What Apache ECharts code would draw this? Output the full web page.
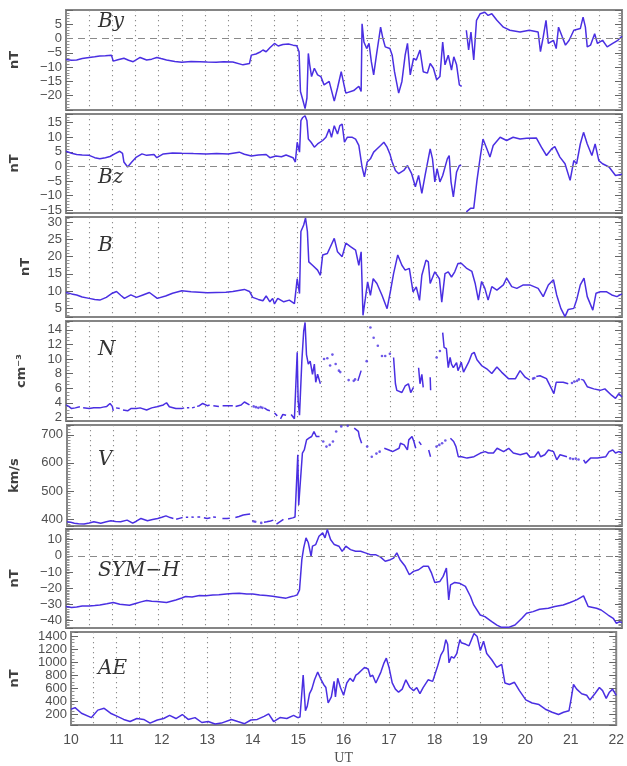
<!DOCTYPE html>
<html>
<head>
<meta charset="utf-8">
<script src="https://cdn.jsdelivr.net/npm/echarts@6/dist/echarts.min.js"></script>
<style>
html,body{margin:0;padding:0;background:#fff}
#chart{width:627px;height:766px}
</style>
</head>
<body>
<div id="chart"></div>
<script>
// Solar wind / geomagnetic overview, 10-22 UT. Each record is [UT hour, value].
const hourTicks = [10, 11, 12, 13, 14, 15, 16, 17, 18, 19, 20, 21, 22];

const byData = [
  [10.0,-7.3],[10.12,-7.6],[10.23,-7.5],[10.35,-7.0],[10.5,-6.6],[10.62,-6.4],[10.73,-6.1],[10.85,-6.0],[10.98,-5.8],[11.02,-7.9],
  [11.12,-7.4],[11.25,-6.9],[11.35,-7.6],[11.45,-8.1],[11.6,-6.6],[11.74,-7.5],[11.85,-7.2],[11.96,-6.6],[12.05,-7.0],[12.17,-7.5],
  [12.35,-8.0],[12.5,-8.3],[12.7,-8.0],[12.88,-8.1],[13.05,-8.2],[13.24,-8.3],[13.4,-8.1],[13.6,-8.2],[13.82,-9.2],[13.96,-8.7],
  [14.0,-5.8],[14.1,-5.4],[14.18,-4.8],[14.25,-4.0],[14.32,-4.6],[14.4,-3.2],[14.5,-1.7],[14.58,-2.6],[14.68,-2.1],[14.8,-1.9],
  [14.9,-2.3],[14.98,-2.5],[15.03,-4.6],[15.06,-18.5],[15.11,-21.4],[15.16,-24.5],[15.2,-20.8],[15.23,-5.2],[15.26,-9.2],[15.3,-13.3],
  [15.36,-10.4],[15.43,-12.7],[15.5,-13.3],[15.57,-16.2],[15.68,-15.0],[15.79,-21.9],[15.86,-17.3],[15.94,-11.6],[16.0,-16.2],[16.04,-19.1],
  [16.21,-18.2],[16.32,-16.7],[16.37,-18.5],[16.39,5.2],[16.43,-1.2],[16.49,-3.5],[16.54,-1.7],[16.59,-8.1],[16.64,-12.7],[16.7,-5.8],
  [16.79,4.0],[16.84,0],[16.89,-2.9],[16.99,-3.5],[17.04,-5.8],[17.09,-11.6],[17.18,-19.1],[17.25,-15.0],[17.32,-5.8],[17.37,-1.7],
  [17.43,-12.7],[17.5,-6.9],[17.56,-7.5],[17.64,-4.0],[17.71,-11.6],[17.8,-12.1],[17.86,-8.7],[17.93,-10.4],[18.0,-14.4],[18.07,-13.3],
  [18.13,-1.2],[18.18,-9.2],[18.25,-5.8],[18.32,-11.0],[18.37,-6.4],[18.43,-9.2],[18.49,-16.2],[18.54,-16.7],[18.59,null],[18.64,2.9],
  [18.69,-4.0],[18.74,2.3],[18.8,-7.5],[18.86,6.4],[18.94,8.7],[19.04,9.2],[19.11,8.1],[19.19,8.7],[19.3,6.4],[19.44,4.0],
  [19.58,2.9],[19.8,2.3],[20.0,2.9],[20.19,2.3],[20.24,-4.6],[20.3,0.6],[20.36,6.4],[20.41,-1.7],[20.52,-0.6],[20.58,-3.5],
  [20.63,4.0],[20.71,0.6],[20.78,-2.3],[20.86,-0.6],[20.96,2.9],[21.1,3.5],[21.16,7.5],[21.21,4.0],[21.25,-2.9],[21.32,-2.3],
  [21.41,1.7],[21.47,-1.7],[21.58,-0.6],[21.68,-2.9],[21.8,-1.7],[21.91,-0.6],[22.0,0.8]
];

const bzData = [
  [10.0,5.2],[10.12,4.5],[10.23,4.1],[10.35,3.9],[10.5,3.8],[10.62,3.0],[10.73,2.6],[10.85,3.0],[10.95,3.4],[11.05,4.3],
  [11.16,5.2],[11.22,4.5],[11.25,1.5],[11.33,-0.2],[11.42,1.5],[11.52,3.2],[11.64,4.3],[11.74,3.8],[11.9,4.1],[11.96,3.0],
  [12.1,4.3],[12.3,4.6],[12.5,4.5],[12.75,4.4],[13.03,4.3],[13.25,4.4],[13.5,4.3],[13.74,4.9],[13.85,4.2],[14.0,3.6],
  [14.15,3.9],[14.32,4.1],[14.4,3.0],[14.53,3.6],[14.65,3.3],[14.75,3.9],[14.9,3.0],[14.95,1.5],[14.99,8.3],[15.04,4.9],
  [15.07,15.7],[15.11,16.8],[15.16,17.4],[15.2,15.7],[15.23,9.4],[15.29,8.3],[15.36,6.6],[15.43,7.7],[15.54,8.9],[15.61,10.0],
  [15.68,12.8],[15.73,10.0],[15.79,14.0],[15.86,11.1],[15.91,14.0],[15.96,14.5],[16.01,8.3],[16.07,10.0],[16.18,10.0],[16.25,9.4],
  [16.32,7.2],[16.39,-0.2],[16.44,-3.6],[16.5,1.5],[16.57,2.6],[16.64,4.9],[16.71,6.0],[16.79,7.2],[16.86,8.3],[16.93,6.6],
  [16.99,4.3],[17.04,1.5],[17.11,-1.4],[17.18,-2.5],[17.29,-1.4],[17.37,0.3],[17.46,-2.5],[17.54,-7.0],[17.61,-3.1],[17.68,-9.3],
  [17.75,-3.1],[17.86,6.0],[17.91,2.6],[17.96,-5.3],[18.01,-0.8],[18.07,-5.3],[18.13,-3.1],[18.23,2.6],[18.27,3.75],[18.31,-5.3],
  [18.36,-10.5],[18.43,-1.9],[18.49,0.3],[18.53,0.3],[18.59,null],[18.64,-15.6],[18.73,-14.4],[18.8,-14.4],[18.87,-4.8],[18.94,3.2],
  [19.0,9.4],[19.07,6.6],[19.15,3.2],[19.22,7.2],[19.37,10.0],[19.51,8.9],[19.65,10.0],[19.8,9.4],[19.94,9.7],[20.15,9.8],
  [20.26,6.6],[20.37,3.75],[20.48,6.0],[20.55,6.8],[20.66,3.2],[20.77,0.9],[20.88,-4.8],[20.96,2.0],[21.02,0.9],[21.1,7.7],
  [21.17,11.7],[21.25,7.7],[21.35,3.75],[21.42,7.7],[21.5,2.0],[21.58,0.9],[21.72,-0.2],[21.86,-3.1],[22.0,-2.7]
];

const bData = [
  [10.0,9.6],[10.12,9.2],[10.23,8.9],[10.35,8.3],[10.5,7.9],[10.62,7.6],[10.73,7.4],[10.87,8.2],[11.0,9.4],[11.09,9.9],
  [11.18,8.8],[11.26,7.9],[11.4,8.9],[11.52,8.2],[11.66,8.9],[11.8,9.6],[11.97,7.9],[12.15,8.6],[12.3,9.4],[12.5,10.1],
  [12.7,9.8],[12.88,9.7],[13.05,9.5],[13.24,9.6],[13.45,9.7],[13.6,9.9],[13.85,10.5],[13.96,9.9],[14.03,8.2],[14.15,7.6],
  [14.25,7.2],[14.32,8.6],[14.4,6.9],[14.46,7.9],[14.5,6.3],[14.57,7.9],[14.7,6.9],[14.82,7.4],[14.93,6.4],[14.99,13.6],
  [15.04,9.3],[15.07,27.3],[15.13,29.2],[15.17,31.2],[15.21,27.3],[15.24,18.5],[15.32,17.5],[15.43,16.1],[15.49,14.6],[15.54,20.5],
  [15.64,20.9],[15.79,25.3],[15.86,21.4],[15.96,20.0],[16.04,23.9],[16.14,22.9],[16.25,21.9],[16.32,17.5],[16.37,21.4],[16.41,3.0],
  [16.46,7.8],[16.51,12.7],[16.57,8.8],[16.63,13.6],[16.71,12.2],[16.82,8.8],[16.93,4.9],[17.0,9.8],[17.07,15.1],[17.16,20.5],
  [17.25,17.5],[17.32,16.1],[17.41,16.6],[17.49,9.8],[17.56,11.2],[17.63,7.3],[17.68,14.6],[17.77,19.0],[17.82,18.5],[17.86,12.2],
  [17.96,15.6],[18.06,13.6],[18.11,6.8],[18.18,15.1],[18.25,15.6],[18.32,14.1],[18.39,15.6],[18.46,18.0],[18.53,18.1],[18.64,16.7],
  [18.76,15.7],[18.83,12.3],[18.9,7.4],[18.97,12.8],[19.04,10.8],[19.11,7.4],[19.19,11.3],[19.3,10.3],[19.44,11.8],[19.51,13.8],
  [19.62,11.3],[19.73,10.8],[19.87,11.8],[20.01,11.8],[20.19,10.8],[20.3,8.4],[20.41,11.8],[20.52,13.3],[20.59,8.9],[20.68,5.0],
  [20.77,2.6],[20.84,4.7],[20.96,5.0],[21.02,7.4],[21.1,11.8],[21.18,13.8],[21.25,8.4],[21.37,4.5],[21.44,9.4],[21.53,9.8],
  [21.67,9.8],[21.78,8.9],[21.89,8.4],[22.0,9.2]
];

// Density: null entries mark data gaps, isolated samples are kept separately.
const nData = [
  [10.0,3.7],[10.06,3.5],[10.12,3.2],[10.2,3.3],[10.3,3.45],[10.34,null],[10.37,3.3],[10.5,3.2],[10.6,3.3],[10.73,3.3],
  [10.8,3.4],[10.88,3.5],[10.95,3.9],[11.0,3.5],[11.02,2.9],[11.05,null],[11.08,3.3],[11.16,3.2],[11.2,null],[11.23,3.0],
  [11.33,2.9],[11.4,3.2],[11.52,3.2],[11.6,3.3],[11.74,3.0],[11.85,3.3],[11.96,3.45],[12.1,3.7],[12.17,4.0],[12.23,3.45],
  [12.37,3.2],[12.5,3.2],[12.55,3.3],[12.58,null],[12.61,3.3],[12.66,3.3],[12.69,null],[12.72,3.3],[12.78,3.4],[12.8,null],
  [12.83,3.5],[12.88,3.6],[12.95,3.9],[13.05,3.6],[13.1,3.7],[13.13,null],[13.18,3.6],[13.3,3.5],[13.34,null],[13.38,3.6],
  [13.5,3.6],[13.6,3.6],[13.63,null],[13.66,3.5],[13.78,3.7],[13.85,4.1],[13.96,3.7],[14.0,null],[14.28,3.3],[14.35,3.0],
  [14.4,2.9],[14.45,null],[14.5,2.6],[14.56,2.2],[14.6,null],[14.63,1.8],[14.68,2.4],[14.75,2.3],[14.8,null],[14.86,2.4],
  [14.93,1.8],[14.99,10.9],[15.01,4.3],[15.04,2.3],[15.09,9.7],[15.13,13.8],[15.16,15.0],[15.19,10.6],[15.23,9.3],[15.27,9.7],
  [15.32,7.9],[15.36,9.3],[15.39,6.8],[15.43,7.9],[15.49,6.6],[15.52,null],[16.3,7.0],[16.37,8.4],[16.4,null],[17.07,10.2],
  [17.11,6.6],[17.14,5.7],[17.25,5.4],[17.32,6.3],[17.39,6.6],[17.44,5.4],[17.5,6.1],[17.55,null],[17.61,8.8],[17.64,6.6],
  [17.68,7.9],[17.71,6.1],[17.75,null],[17.86,7.5],[17.87,5.7],[17.9,null],[18.13,13.6],[18.16,11.6],[18.21,11.4],[18.25,8.8],
  [18.29,10.2],[18.32,9.3],[18.36,8.8],[18.43,9.5],[18.46,8.4],[18.5,9.0],[18.53,9.56],[18.58,8.2],[18.69,9.56],[18.76,10.7],
  [18.81,10.9],[18.87,9.9],[18.97,9.1],[19.08,8.65],[19.19,8.0],[19.3,8.9],[19.4,8.2],[19.55,7.3],[19.7,7.3],[19.8,8.4],
  [19.91,7.5],[20.01,7.1],[20.05,null],[20.15,7.6],[20.23,7.7],[20.37,7.3],[20.48,5.9],[20.53,5.25],[20.58,6.8],[20.73,6.8],
  [20.84,6.6],[20.88,null],[21.12,7.2],[21.17,7.1],[21.25,6.2],[21.39,5.9],[21.53,5.7],[21.63,5.9],[21.78,5.0],[21.86,4.6],
  [21.93,5.25],[22.0,4.8]
];
const nDots = [
  [14.05,3.5],[14.1,3.4],[14.15,3.3],[14.2,3.4],[14.24,3.3],[15.57,10.0],[15.64,10.1],[15.7,9.1],[15.75,10.6],[15.82,9.3],
  [15.89,8.4],[15.92,8.2],[16.1,7.1],[16.21,7.0],[16.24,7.2],[16.49,9.7],[16.57,14.3],[16.64,12.9],[16.73,11.8],[16.82,10.4],
  [16.89,10.4],[16.99,10.7],[18.0,10.2],[18.07,11.1],[20.08,7.3],[20.11,7.4],[20.92,6.7],[20.97,6.9],[21.03,7.0],[21.07,7.2]
];

const vData = [
  [10.0,390],[10.08,388],[10.16,385],[10.25,383],[10.37,382],[10.48,386],[10.58,390],[10.73,385],[10.85,390],[10.95,394],
  [11.05,391],[11.16,390],[11.3,396],[11.42,385],[11.5,392],[11.6,402],[11.74,394],[11.85,398],[11.96,402],[12.05,406],
  [12.14,411],[12.23,405],[12.3,402],[12.33,null],[12.36,399],[12.45,403],[12.5,405],[12.53,null],[12.57,406],[12.62,406],
  [12.65,null],[12.69,407],[12.74,406],[12.77,null],[12.82,407],[12.88,407],[12.92,null],[12.96,404],[13.03,402],[13.1,404],
  [13.13,null],[13.16,407],[13.22,406],[13.26,null],[13.36,402],[13.46,402],[13.52,403],[13.56,null],[13.64,405],[13.72,409],
  [13.81,414],[13.88,416],[13.96,418],[14.0,null],[14.12,385],[14.16,null],[14.26,388],[14.32,390],[14.4,393],[14.46,396],
  [14.5,null],[14.53,382],[14.6,390],[14.68,399],[14.74,null],[14.78,400],[14.82,402],[14.88,404],[14.93,407],[14.99,629],
  [15.01,450],[15.05,444],[15.09,635],[15.13,646],[15.18,682],[15.23,688],[15.29,694],[15.34,712],[15.39,694],[15.46,694],
  [15.5,null],[16.21,724],[16.3,712],[16.32,694],[16.37,670],[16.4,null],[16.86,652],[16.96,646],[17.04,640],[17.07,646],
  [17.18,652],[17.21,670],[17.29,664],[17.36,646],[17.39,682],[17.46,694],[17.5,676],[17.54,652],[17.57,null],[17.61,676],
  [17.66,664],[17.7,null],[17.82,646],[17.86,622],[17.9,null],[18.29,688],[18.36,676],[18.41,658],[18.46,622],[18.5,620],
  [18.53,622],[18.65,617],[18.8,622],[18.94,635],[19.04,640],[19.11,635],[19.22,635],[19.3,652],[19.44,640],[19.55,652],
  [19.65,635],[19.8,629],[19.94,635],[20.01,620],[20.11,622],[20.19,640],[20.24,622],[20.33,629],[20.41,646],[20.52,640],
  [20.59,611],[20.66,629],[20.81,622],[20.85,null],[21.17,611],[21.21,599],[21.32,617],[21.47,617],[21.65,622],[21.72,640],
  [21.8,646],[21.86,635],[21.93,640],[22.0,635]
];
const vDots = [
  [14.03,392],[14.07,390],[14.2,386],[15.54,676],[15.61,658],[15.68,664],[15.75,676],[15.82,712],[15.93,730],[16.07,732],
  [16.49,658],[16.59,622],[16.69,633],[16.76,640],[17.99,658],[18.05,664],[18.11,670],[18.18,680],[20.88,616],[20.94,614],
  [21.0,615],[21.06,612]
];

const symData = [
  [10.0,-31.3],[10.12,-31.8],[10.23,-31.6],[10.35,-31.0],[10.5,-30.9],[10.62,-30.6],[10.73,-30.3],[10.88,-29.6],[11.02,-28.8],[11.16,-29.9],
  [11.37,-30.5],[11.52,-29.2],[11.62,-28.4],[11.74,-27.6],[11.85,-28.0],[11.96,-28.2],[12.17,-28.8],[12.37,-27.2],[12.5,-26.0],[12.58,-25.1],
  [12.72,-25.4],[12.88,-24.5],[13.02,-24.6],[13.17,-24.1],[13.3,-24.0],[13.46,-23.5],[13.6,-23.2],[13.74,-23.1],[13.9,-23.6],[14.03,-23.5],
  [14.18,-24.1],[14.32,-24.5],[14.46,-25.0],[14.6,-25.5],[14.75,-26.1],[14.85,-25.3],[14.93,-24.7],[14.99,-24.1],[15.04,-21.0],[15.09,-2.4],
  [15.13,4.9],[15.18,11.0],[15.23,8.0],[15.29,-0.3],[15.32,5.9],[15.39,6.9],[15.46,12.0],[15.54,14.1],[15.59,11.0],[15.64,16.2],
  [15.71,10.0],[15.79,6.9],[15.89,5.9],[15.96,2.75],[16.04,5.9],[16.14,3.8],[16.25,2.75],[16.36,2.75],[16.46,1.8],[16.57,0.7],
  [16.68,0.7],[16.79,-0.8],[16.89,-3.4],[17.0,-2.4],[17.07,-1.4],[17.14,1.8],[17.21,-2.4],[17.32,-6.5],[17.41,-11.7],[17.5,-9.6],
  [17.61,-8.6],[17.71,-6.5],[17.82,-6.5],[17.89,-10.7],[17.96,-16.4],[18.07,-15.8],[18.14,-12.7],[18.21,-7.6],[18.26,-27.2],[18.3,-17.9],
  [18.39,-16.4],[18.49,-16.9],[18.53,-16.9],[18.62,-18.9],[18.73,-25.1],[18.8,-30.3],[18.94,-36.5],[19.04,-37.5],[19.19,-40.6],[19.3,-42.7],
  [19.4,-44.1],[19.55,-44.1],[19.69,-42.7],[19.84,-38.5],[19.94,-35.4],[20.08,-34.4],[20.22,-32.9],[20.41,-32.3],[20.55,-31.3],[20.73,-30.3],
  [20.88,-28.8],[21.02,-27.2],[21.17,-24.7],[21.27,-31.3],[21.45,-32.3],[21.55,-33.4],[21.7,-36.5],[21.81,-38.5],[21.88,-41.6],[21.95,-40.6],
  [22.0,-41.2]
];

const aeData = [
  [10.0,281],[10.09,305],[10.23,220],[10.45,153],[10.59,267],[10.73,295],[10.77,314],[10.87,220],[11.02,172],[11.16,125],
  [11.3,93],[11.45,139],[11.6,125],[11.74,69],[11.9,116],[12.04,139],[12.17,186],[12.31,139],[12.45,200],[12.58,125],
  [12.73,153],[12.88,78],[13.02,93],[13.17,55],[13.31,69],[13.53,125],[13.67,93],[13.82,60],[13.96,116],[14.1,125],
  [14.25,172],[14.35,210],[14.46,93],[14.6,153],[14.75,139],[14.9,186],[14.99,153],[15.04,163],[15.11,801],[15.16,257],
  [15.2,328],[15.25,518],[15.3,588],[15.36,730],[15.43,848],[15.49,753],[15.56,659],[15.61,612],[15.66,376],[15.73,470],
  [15.79,706],[15.82,470],[15.87,753],[15.93,612],[16.0,494],[16.07,682],[16.14,753],[16.21,706],[16.27,801],[16.32,824],
  [16.39,872],[16.46,919],[16.54,895],[16.59,777],[16.64,801],[16.71,682],[16.82,848],[16.89,989],[16.94,1060],[17.0,919],
  [17.07,682],[17.14,588],[17.21,541],[17.29,588],[17.37,730],[17.46,612],[17.54,565],[17.61,612],[17.68,518],[17.75,612],
  [17.86,730],[17.96,706],[18.07,942],[18.14,1107],[18.2,1178],[18.25,1343],[18.29,1272],[18.32,989],[18.37,1083],[18.43,1060],
  [18.49,1131],[18.56,1343],[18.59,1296],[18.69,1272],[18.76,1249],[18.87,1438],[18.94,1390],[19.01,1178],[19.08,1319],[19.15,1131],
  [19.26,1036],[19.37,919],[19.48,966],[19.55,682],[19.65,659],[19.76,692],[19.87,565],[20.01,423],[20.15,376],[20.3,352],
  [20.44,281],[20.59,234],[20.73,200],[20.84,234],[20.96,257],[21.01,447],[21.06,659],[21.13,588],[21.24,518],[21.35,494],
  [21.42,423],[21.53,518],[21.63,612],[21.7,565],[21.78,447],[21.85,541],[21.92,588],[22.0,494]
];

// Panel layout and axis settings
const LINE = '#4a2fe2';
const panels = [
  { title: 'By',    unit: 'nT',   line: byData,  dots: null,  min: -25,  max: 10,   split: 7, step: 5,   minor: 5,  zero: true,  gap: 45, top: 10,  h: 100, ty: 24 },
  { title: 'Bz',    unit: 'nT',   line: bzData,  dots: null,  min: -16,  max: 18,   split: 7, step: 5,   minor: 5,  zero: true,  gap: 45, top: 114, h: 99,  ty: 180 },
  { title: 'B',     unit: 'nT',   line: bData,   dots: null,  min: 2.5,  max: 31.5, split: 6, step: 5,   minor: 5,  zero: false, gap: 34, top: 217, h: 100, ty: 248 },
  { title: 'N',     unit: 'cm⁻³', line: nData,   dots: nDots, min: 1.5,  max: 15.2, split: 7, step: 2,   minor: 4,  zero: false, gap: 38, top: 321, h: 100, ty: 352 },
  { title: 'V',     unit: 'km/s', line: vData,   dots: vDots, min: 375,  max: 735,  split: 4, step: 100, minor: 10, zero: false, gap: 46, top: 425, h: 101, ty: 462 },
  { title: 'SYM−H', unit: 'nT',   line: symData, dots: null,  min: -44.5,max: 16.5, split: 6, step: 10,  minor: 10, zero: true,  gap: 45, top: 529, h: 99,  ty: 573 },
  { title: 'AE',    unit: 'nT',   line: aeData,  dots: null,  min: 40,   max: 1460, split: 7, step: 200, minor: 4,  zero: false, gap: 50, top: 632, h: 100, ty: 671 }
];

const TICK_COLOR = '#666';
const LABEL_COLOR = '#505050';

function fmtTick(p) {
  return function (v) {
    const k = v / p.step;
    if (Math.abs(k - Math.round(k)) > 1e-6) return '';
    if (v <= p.min + 1e-9 || v >= p.max - 1e-9) return '';
    return v < 0 ? '−' + Math.abs(v) : String(v);
  };
}

const grid = [], xAxis = [], yAxis = [], series = [], graphic = [];
panels.forEach((p, i) => {
  const last = i === panels.length - 1;
  grid.push({ left: 66, right: 5, top: p.top, height: p.h, show: true,
    borderColor: '#858585', borderWidth: 2, backgroundColor: 'transparent' });
  xAxis.push({
    type: 'value', gridIndex: i, min: 10, max: 22, interval: 0.5,
    axisLine: { show: false }, axisTick: { show: false },
    splitLine: { show: true, lineStyle: { color: '#8c8c8c', width: 1.1, type: [1.2, 3.8] } },
    axisLabel: {
      show: last, margin: 8, fontSize: 14, color: LABEL_COLOR, fontFamily: 'Liberation Sans',
      formatter: v => (hourTicks.indexOf(v) >= 0 ? String(v) : '')
    },
    name: last ? 'UT' : '', nameLocation: 'middle', nameGap: 26,
    nameTextStyle: { fontSize: 14, color: LABEL_COLOR, fontFamily: 'Liberation Serif' }
  });
  const common = {
    type: 'value', gridIndex: i, min: p.min, max: p.max, splitNumber: p.split,
    axisLine: { show: false }, splitLine: { show: false },
    axisTick: { show: true, inside: true, length: 7, lineStyle: { color: TICK_COLOR, width: 1 } },
    minorTick: { show: true, splitNumber: p.minor, length: 3.5, lineStyle: { color: '#888', width: 0.9 } }
  };
  yAxis.push(Object.assign({}, common, {
    position: 'left',
    axisLabel: { margin: 4, fontSize: 13, color: LABEL_COLOR, fontFamily: 'Liberation Sans', formatter: fmtTick(p) },
    name: p.unit, nameLocation: 'middle', nameGap: p.gap, nameRotate: 90,
    nameTextStyle: { fontSize: 13, fontWeight: 'bold', color: '#404040', fontFamily: 'DejaVu Sans' }
  }));
  yAxis.push(Object.assign({}, common, { position: 'right', axisLabel: { show: false } }));

  const s = {
    type: 'line', xAxisIndex: i, yAxisIndex: 2 * i, data: p.line,
    showSymbol: false, connectNulls: false, animation: false, clip: true,
    lineStyle: { color: LINE, width: 1.5 }, itemStyle: { color: LINE }, z: 3
  };
  if (p.zero) {
    s.markLine = {
      silent: true, symbol: 'none', animation: false, label: { show: false },
      lineStyle: { color: '#8a8a8a', width: 1.2, type: [7, 5] },
      data: [{ yAxis: 0 }]
    };
  }
  series.push(s);
  if (p.dots) {
    series.push({
      type: 'scatter', xAxisIndex: i, yAxisIndex: 2 * i, data: p.dots,
      symbolSize: 2.6, animation: false, itemStyle: { color: LINE }, z: 3
    });
  }
  graphic.push({
    type: 'text', left: 98, top: p.ty - 12, silent: true,
    style: { text: p.title, font: 'italic 20px "DejaVu Serif"', fill: '#333' }
  });
});

const chart = echarts.init(document.getElementById('chart'), null, { renderer: 'canvas' });
chart.setOption({ animation: false, backgroundColor: '#fff', grid, xAxis, yAxis, series, graphic });
</script>
</body>
</html>
